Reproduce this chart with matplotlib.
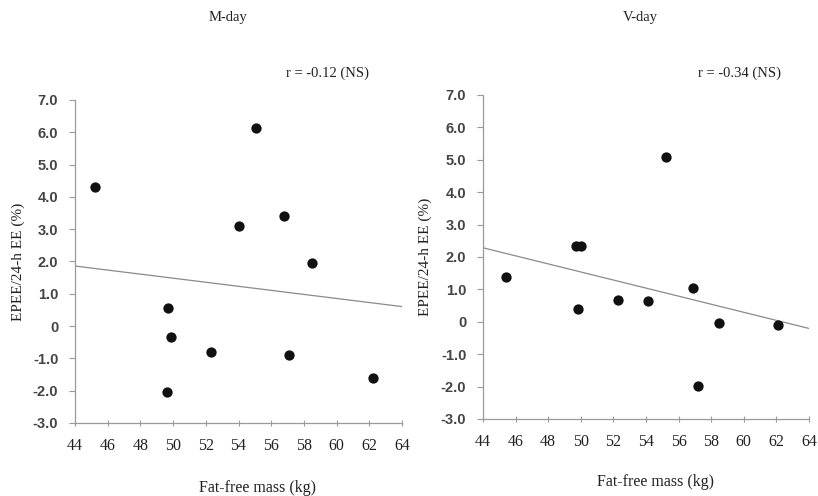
import numpy as np
import matplotlib
matplotlib.use("Agg")
import matplotlib.pyplot as plt

# ---- data ----
m_ffm = [45.2, 55.1, 54.0, 56.8, 58.5, 49.7, 49.9, 52.3, 57.1, 49.6, 62.2]
m_epee = [4.31, 6.13, 3.10, 3.41, 1.95, 0.55, -0.33, -0.81, -0.88, -2.03, -1.62]
v_ffm = [45.4, 55.2, 49.7, 50.0, 49.8, 52.3, 54.1, 56.9, 58.5, 57.2, 62.1]
v_epee = [1.38, 5.09, 2.35, 2.35, 0.38, 0.67, 0.64, 1.03, -0.04, -1.97, -0.09]

panel_titles = ["M-day", "V-day"]
r_labels = ["r = -0.12 (NS)", "r = -0.34 (NS)"]
x_ticks = [44, 46, 48, 50, 52, 54, 56, 58, 60, 62, 64]
y_ticks = [7, 6, 5, 4, 3, 2, 1, 0, -1, -2, -3]
y_tick_labels = ["7.0", "6.0", "5.0", "4.0", "3.0", "2.0", "1.0", "0", "-1.0", "-2.0", "-3.0"]
x_label = "Fat-free mass (kg)"
y_label = "EPEE/24-h EE (%)"

serif = ["Liberation Serif", "DejaVu Serif"]
sans = ["Liberation Sans", "DejaVu Sans"]

fig = plt.figure(figsize=(8.18, 4.96), dpi=100)
fig.patch.set_facecolor("white")

rects = [
    [75 / 818, 1 - 423 / 496, (402 - 75) / 818, (423 - 100) / 496],
    [483 / 818, 1 - 419 / 496, (809 - 483) / 818, (419 - 95) / 496],
]
title_pos = [(228 / 818, 1 - 18 / 496), (640 / 818, 1 - 18 / 496)]
r_pos = [(328 / 818, 1 - 73 / 496), (740 / 818, 1 - 73 / 496)]
xlabel_coords = [(0.557, -0.2), (0.528, -0.194)]
ylabel_coords = [(-0.174, 0.5), (-0.178, 0.5)]

datasets = [(m_ffm, m_epee), (v_ffm, v_epee)]

for i, (xs, ys) in enumerate(datasets):
    ax = fig.add_axes(rects[i])
    ax.scatter(xs, ys, s=55, color="#111111", zorder=3, linewidths=0)
    slope, intercept = np.polyfit(xs, ys, 1)
    lx = np.array([x_ticks[0], x_ticks[-1]])
    ax.plot(lx, slope * lx + intercept, color="#8a8a8a", lw=0.9, zorder=2)

    ax.set_xlim(x_ticks[0], x_ticks[-1])
    ax.set_ylim(min(y_ticks), max(y_ticks))
    for s in ["top", "right"]:
        ax.spines[s].set_visible(False)
    for s in ["left", "bottom"]:
        ax.spines[s].set_color("#9a9a9a")
        ax.spines[s].set_linewidth(0.9)

    ax.set_xticks(x_ticks)
    ax.set_xticklabels([str(t) for t in x_ticks], fontfamily=serif, fontsize=11.5, color="#222222")
    ax.set_yticks(y_ticks)
    ax.set_yticklabels(y_tick_labels, fontfamily=sans, fontsize=10.5, fontweight="bold", color="#444444")
    ax.tick_params(axis="x", direction="inout", length=4, width=0.8, color="#9a9a9a", pad=9)
    ax.tick_params(axis="y", direction="out", length=4, width=0.8, color="#9a9a9a", pad=8)

    ax.set_ylabel(y_label, fontfamily=serif, fontsize=11, color="#222222", va="center")
    ax.yaxis.set_label_coords(*ylabel_coords[i])
    ax.set_xlabel(x_label, fontfamily=serif, fontsize=11.5, color="#222222", va="center")
    ax.xaxis.set_label_coords(*xlabel_coords[i])

    fig.text(*title_pos[i], panel_titles[i], fontfamily=serif, fontsize=10.5,
             color="#222222", ha="center", va="center")
    fig.text(*r_pos[i], r_labels[i], fontfamily=serif, fontsize=10.5,
             color="#222222", ha="center", va="center")

fig.savefig("out.png", dpi=100, facecolor="white")
